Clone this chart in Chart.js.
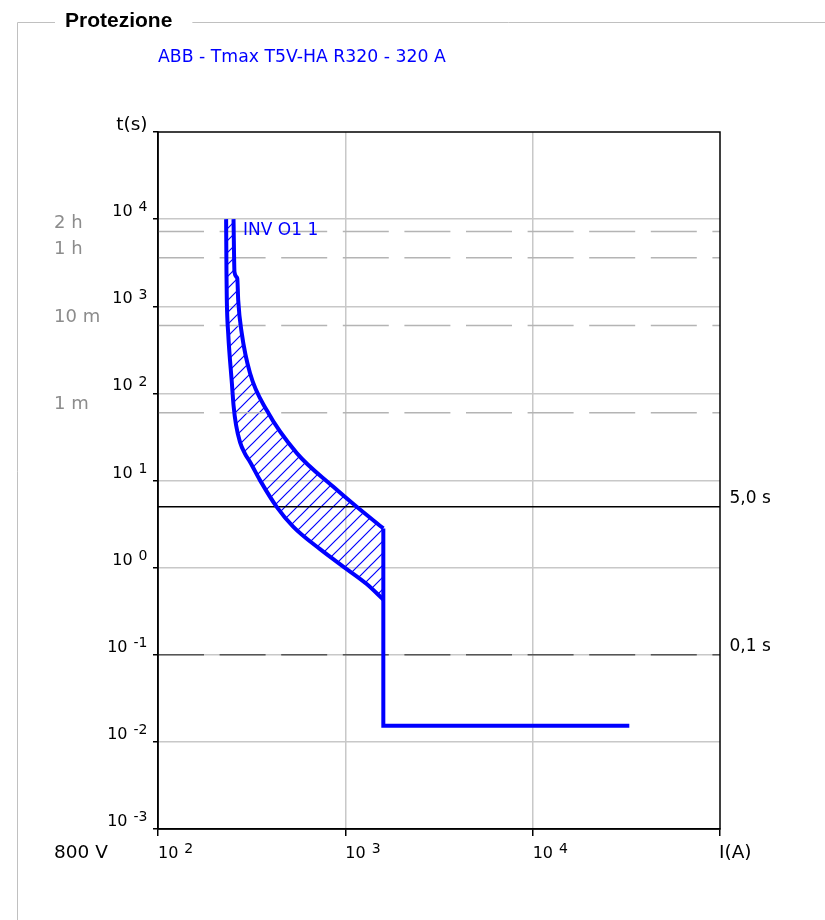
<!DOCTYPE html>
<html>
<head>
<meta charset="utf-8">
<title>Protezione</title>
<script src="https://cdn.jsdelivr.net/npm/chart.js@4.4.0/dist/chart.umd.min.js"></script>
<style>
  body { margin: 0; background: #fff; }
  #chart { display: block; }
</style>
</head>
<body>
<canvas id="chart" width="825" height="920"></canvas>
<script>
// Decades on both axes
const currentTicks = [1e2, 1e3, 1e4, 1e5];
const timeTicks = [1e-3, 1e-2, 1e-1, 1e0, 1e1, 1e2, 1e3, 1e4, 1e5];

// Breaker trip band, I (A) against t (s)
const minCurveI = [231, 232, 233, 237, 248, 253, 261, 274, 291, 310, 350, 430, 528, 733, 1017, 1300, 1595];
const minCurveT = [10000, 2465, 1176, 488, 130, 73.4, 43.3, 27.6, 20.4, 16.3, 10.1, 4.99, 2.94, 1.63, 0.963, 0.648, 0.43];
const maxCurveI = [253, 256, 265, 268, 280, 310, 380, 552, 863, 1150, 1595];
const maxCurveT = [10000, 2465, 2087, 1176, 488, 170, 64.3, 20.5, 8.47, 4.99, 2.82];
// Instantaneous step
const instI = [1595, 1595, 32800];
const instT = [2.82, 0.0153, 0.0153];

// Time references on the left
const refLabels = ['2 h', '1 h', '10 m', '1 m'];
const refTimes = [7200, 3600, 600, 60];

// Selectivity times on the right
const markLabels = ['5,0 s', '0,1 s'];
const markTimes = [5, 0.1];

const title = 'Protezione';
const deviceName = 'ABB - Tmax T5V-HA R320 - 320 A';
const curveName = 'INV O1 1';
const voltage = '800 V';

const BLUE = '#0000ff';
const FONT = '"DejaVu Sans", Verdana, sans-serif';

const pts = (xs, ys) => xs.map((x, i) => ({ x, y: ys[i] }));
const across = t => [{ x: currentTicks[0], y: t }, { x: currentTicks[currentTicks.length - 1], y: t }];

function hatchPattern(ctx) {
    const s = 12;
    const c = document.createElement('canvas');
    c.width = s; c.height = s;
    const g = c.getContext('2d');
    g.strokeStyle = BLUE;
    g.lineWidth = 1.2;
    g.beginPath();
    g.moveTo(0, s); g.lineTo(s, 0);
    g.moveTo(-2, 2); g.lineTo(2, -2);
    g.moveTo(s - 2, s + 2); g.lineTo(s + 2, s - 2);
    g.stroke();
    return ctx.createPattern(c, 'repeat');
}

// "10" with a raised exponent
function powerLabel(ctx, exp, x, y, align) {
    ctx.font = '16px ' + FONT;
    const wb = ctx.measureText('10').width;
    ctx.font = '14px ' + FONT;
    const we = ctx.measureText(exp).width;
    const gap = 6;
    const x0 = align === 'right' ? x - (wb + gap + we) : x;
    ctx.font = '16px ' + FONT;
    ctx.fillText('10', x0, y);
    ctx.font = '14px ' + FONT;
    ctx.fillText(exp, x0 + wb + gap, y - 4.7);
}

const decorPlugin = {
    id: 'decor',
    beforeDraw(chart) {
        const ctx = chart.ctx;
        ctx.save();
        // group box with its caption
        ctx.font = 'bold 21px "Liberation Sans", Arial, sans-serif';
        const tx = 65;
        const tw = ctx.measureText(title).width;
        ctx.strokeStyle = '#c0c0c0';
        ctx.lineWidth = 1;
        ctx.beginPath();
        ctx.moveTo(17.5, 920); ctx.lineTo(17.5, 22.5); ctx.lineTo(tx - 10, 22.5);
        ctx.moveTo(tx + tw + 20, 22.5); ctx.lineTo(825, 22.5);
        ctx.stroke();
        ctx.fillStyle = '#000';
        ctx.textBaseline = 'alphabetic';
        ctx.fillText(title, tx, 27);
        ctx.fillStyle = BLUE;
        ctx.font = '17.3px ' + FONT;
        ctx.fillText(deviceName, 158, 61.5);
        ctx.restore();
    },
    beforeDatasetsDraw(chart) {
        // hatched band between the two trip curves
        const ctx = chart.ctx;
        const a = chart.chartArea;
        const lo = chart.getDatasetMeta(0).data;
        const hi = chart.getDatasetMeta(1).data;
        ctx.save();
        ctx.beginPath();
        ctx.rect(a.left, a.top, a.right - a.left, a.bottom - a.top);
        ctx.clip();
        ctx.beginPath();
        lo.forEach((p, i) => i ? ctx.lineTo(p.x, p.y) : ctx.moveTo(p.x, p.y));
        for (let i = hi.length - 1; i >= 0; i--) ctx.lineTo(hi[i].x, hi[i].y);
        ctx.closePath();
        ctx.fillStyle = hatchPattern(ctx);
        ctx.fill();
        ctx.restore();
    },
    afterDraw(chart) {
        const ctx = chart.ctx;
        const a = chart.chartArea;
        const xs = chart.scales.x;
        const ys = chart.scales.y;
        ctx.save();
        // frame
        ctx.strokeStyle = '#000';
        ctx.lineWidth = 1.5;
        ctx.strokeRect(a.left, a.top, a.right - a.left, a.bottom - a.top);

        ctx.fillStyle = '#000';
        ctx.textBaseline = 'alphabetic';
        // time decades
        timeTicks.slice(0, -1).forEach(v => {
            powerLabel(ctx, String(Math.round(Math.log10(v))), a.left - 10.5, ys.getPixelForValue(v) - 3, 'right');
        });
        // current decades
        currentTicks.slice(0, -1).forEach(v => {
            powerLabel(ctx, String(Math.round(Math.log10(v))), xs.getPixelForValue(v), a.bottom + 29, 'left');
        });
        ctx.font = '18.5px ' + FONT;
        ctx.textAlign = 'right';
        ctx.fillText('t(s)', a.left - 10.5, a.top - 2);
        ctx.textAlign = 'left';
        ctx.fillText('I(A)', a.right - 1, a.bottom + 29);
        ctx.fillText(voltage, 54, a.bottom + 29);

        // left time references
        ctx.fillStyle = '#8c8c8c';
        ctx.font = '18px ' + FONT;
        refTimes.forEach((t, i) => ctx.fillText(refLabels[i], 54, ys.getPixelForValue(t) - 3.5));

        // right selectivity times
        ctx.fillStyle = '#000';
        ctx.font = '17px ' + FONT;
        markTimes.forEach((t, i) => ctx.fillText(markLabels[i], a.right + 9.5, ys.getPixelForValue(t) - 3.5));

        // curve tag
        ctx.fillStyle = BLUE;
        ctx.fillText(curveName, xs.getPixelForValue(maxCurveI[0]) + 9.5, ys.getPixelForValue(maxCurveT[0]) + 16);
        ctx.restore();
    }
};

const curveStyle = {
    showLine: true,
    borderColor: BLUE,
    borderWidth: 4,
    pointRadius: 0,
    fill: false
};

const datasets = [
    { ...curveStyle, data: pts(minCurveI, minCurveT), cubicInterpolationMode: 'monotone' },
    { ...curveStyle, data: pts(maxCurveI, maxCurveT), cubicInterpolationMode: 'monotone' },
    { ...curveStyle, data: pts(instI, instT), tension: 0, borderJoinStyle: 'miter' },
    // 5 s: solid black, 0.1 s: dark dashes
    { showLine: true, data: across(markTimes[0]), borderColor: '#000', borderWidth: 1.5, pointRadius: 0 },
    { showLine: true, data: across(markTimes[1]), borderColor: '#555', borderWidth: 1.5, borderDash: [46, 15.6], pointRadius: 0 },
    ...refTimes.map(t => ({
        showLine: true, data: across(t), borderColor: '#b4b4b4', borderWidth: 1.5, borderDash: [46, 15.6], pointRadius: 0
    }))
];

const gridColor = list => ctx => {
    const v = ctx.tick && ctx.tick.value;
    return (v === list[0] || v === list[list.length - 1]) ? 'rgba(0,0,0,0)' : '#c8c8c8';
};

new Chart(document.getElementById('chart'), {
    type: 'scatter',
    data: { datasets },
    options: {
        responsive: false,
        animation: false,
        layout: { padding: { left: 153, top: 132, right: 105, bottom: 84 } },
        plugins: { legend: { display: false }, tooltip: { enabled: false } },
        scales: {
            x: {
                type: 'logarithmic',
                min: currentTicks[0],
                max: currentTicks[currentTicks.length - 1],
                afterBuildTicks: s => { s.ticks = currentTicks.map(value => ({ value })); },
                ticks: { display: false },
                grid: { color: gridColor(currentTicks), lineWidth: 1.5, drawTicks: true, tickLength: 7, tickColor: '#000', tickWidth: 1.5 },
                border: { color: '#000', width: 1.5 }
            },
            y: {
                type: 'logarithmic',
                min: timeTicks[0],
                max: timeTicks[timeTicks.length - 1],
                afterBuildTicks: s => { s.ticks = timeTicks.map(value => ({ value })); },
                ticks: { display: false },
                grid: { color: gridColor(timeTicks), lineWidth: 1.5, drawTicks: true, tickLength: 5, tickColor: '#000', tickWidth: 1.5 },
                border: { color: '#000', width: 1.5 }
            }
        }
    },
    plugins: [decorPlugin]
});
</script>
</body>
</html>
